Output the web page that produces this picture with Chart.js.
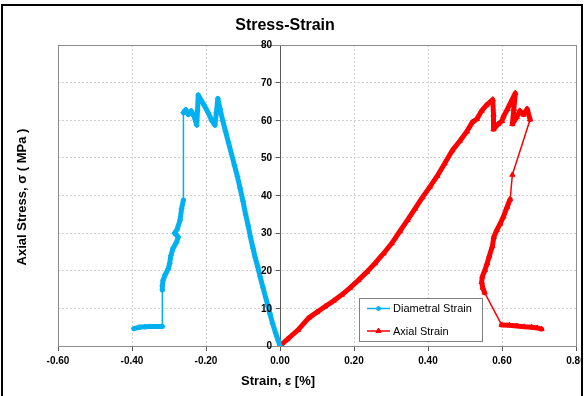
<!DOCTYPE html>
<html>
<head>
<meta charset="utf-8">
<script src="https://cdn.jsdelivr.net/npm/chart.js@4.4.1/dist/chart.umd.min.js"></script>
<style>
	body { margin: 0; background: #fff; }
	#frame { position: absolute; left: 1px; top: 4px; width: 578px; height: 390px; border: 2px solid #000; border-bottom: none; background: #fff; }
	canvas { display: block; }
</style>
</head>
<body>
<div id="frame"><canvas id="stressStrain" width="578" height="390"></canvas></div>
<script>
const strainTicks = [-0.6, -0.4, -0.2, 0, 0.2, 0.4, 0.6, 0.8];
const stressTicks = [0, 10, 20, 30, 40, 50, 60, 70, 80];

// diametral strain [%] against axial stress [MPa]
const diametralStrain = [
	0.000, -0.005, -0.012, -0.020, -0.027, -0.032, -0.039, -0.046, -0.054, -0.060,
	-0.067, -0.073, -0.080, -0.086, -0.093, -0.100, -0.108, -0.115, -0.123, -0.131,
	-0.139, -0.147, -0.155, -0.162, -0.168, -0.172, -0.176, -0.185, -0.194, -0.205,
	-0.214, -0.221, -0.223, -0.225, -0.232, -0.240, -0.248, -0.255, -0.261, -0.261,
	-0.266, -0.270, -0.278, -0.285, -0.275, -0.280, -0.289, -0.295, -0.298, -0.302,
	-0.310, -0.316, -0.318, -0.318, -0.318, -0.335, -0.350, -0.365, -0.380, -0.395
];
const diametralStress = [
	0.0, 1.5, 3.5, 6.0, 8.5, 10.4, 13.0, 15.5, 18.5, 21.0,
	23.5, 26.0, 29.0, 32.0, 35.0, 38.5, 42.0, 45.0, 48.0, 51.0,
	54.0, 57.0, 60.0, 63.0, 65.8, 62.0, 58.7, 60.0, 62.0, 64.0,
	65.5, 66.7, 62.5, 58.7, 61.0, 62.5, 61.5, 62.8, 62.0, 38.8,
	36.5, 33.5, 31.0, 30.0, 29.0, 27.5, 26.0, 24.0, 22.0, 20.5,
	19.0, 17.5, 16.0, 14.9, 5.2, 5.2, 5.2, 5.1, 5.0, 4.6
];

// axial strain [%] against axial stress [MPa]
const axialStrain = [
	0.000, 0.020, 0.049, 0.077, 0.100, 0.122, 0.145, 0.167, 0.190, 0.212,
	0.235, 0.257, 0.280, 0.302, 0.324, 0.345, 0.365, 0.385, 0.405, 0.425,
	0.445, 0.466, 0.486, 0.505, 0.520, 0.532, 0.545, 0.558, 0.575, 0.577,
	0.577, 0.590, 0.600, 0.604, 0.615, 0.625, 0.636, 0.632, 0.628, 0.640,
	0.648, 0.658, 0.668, 0.676, 0.628, 0.622, 0.614, 0.604, 0.595, 0.586,
	0.578, 0.574, 0.566, 0.560, 0.554, 0.547, 0.545, 0.548, 0.553, 0.599,
	0.620, 0.640, 0.660, 0.680, 0.695, 0.707
];
const axialStress = [
	0.0, 1.8, 4.3, 7.4, 9.0, 10.5, 12.0, 13.6, 15.5, 17.5,
	19.7, 22.0, 24.6, 27.3, 30.5, 33.5, 36.5, 39.5, 42.3, 45.2,
	48.5, 52.0, 54.5, 57.0, 59.5, 60.3, 62.5, 64.0, 65.5, 61.5,
	57.6, 59.0, 59.8, 61.0, 63.0, 65.0, 67.2, 63.0, 59.0, 60.8,
	62.5, 61.5, 63.0, 60.2, 45.5, 39.0, 37.0, 34.4, 32.5, 30.8,
	29.0, 26.5, 24.0, 22.0, 20.2, 18.5, 17.0, 15.5, 14.2, 5.6,
	5.5, 5.3, 5.1, 5.0, 4.8, 4.5
];

const FONT = "'Liberation Sans', Arial, sans-serif";
const BLUE = '#00B0F0';
const RED = '#FF0000';

function toPoints(xs, ys)
{
	return xs.map((x, i) => ({x: x, y: ys[i]}));
}

// densely logged stretches read as a thick band, sparse jumps as a thin line
function segmentWidth(ctx)
{
	let len = Math.hypot(ctx.p1.x - ctx.p0.x, ctx.p1.y - ctx.p0.y);
	return len > 20 ? 1.5 : 5;
}

const decorations = {
	id: 'decorations',
	beforeDatasetsDraw(chart)
	{
		let ctx = chart.ctx;
		let a = chart.chartArea;
		ctx.save();
		ctx.strokeStyle = '#8c8c8c';
		ctx.lineWidth = 1;
		ctx.strokeRect(Math.round(a.left) + 0.5, Math.round(a.top) + 0.5,
			Math.round(a.right - a.left), Math.round(a.bottom - a.top));
		ctx.restore();
	},
	afterDraw(chart)
	{
		let ctx = chart.ctx;
		let xs = chart.scales.x;
		let ys = chart.scales.y;
		ctx.save();
		ctx.fillStyle = '#000';
		ctx.textBaseline = 'middle';

		// stress labels sit just left of the zero-strain axis
		ctx.font = 'bold 10px ' + FONT;
		ctx.textAlign = 'right';
		let axisX = xs.getPixelForValue(0);
		stressTicks.forEach(function(v) {
			ctx.fillText(String(v), axisX - 8, ys.getPixelForValue(v) + 0.5);
		});

		ctx.textAlign = 'center';
		ctx.font = 'bold 16px ' + FONT;
		ctx.fillText('Stress-Strain', 282, 20);

		ctx.font = 'bold 13px ' + FONT;
		ctx.fillText('Strain, ε [%]', 275, 375);

		ctx.save();
		ctx.translate(19, 191);
		ctx.rotate(-Math.PI / 2);
		ctx.fillText('Axial Stress, σ ( MPa )', 0, 0);
		ctx.restore();

		// legend box
		let box = {x: 356, y: 292, w: 123, h: 43};
		ctx.fillStyle = '#fff';
		ctx.fillRect(box.x, box.y, box.w, box.h);
		ctx.strokeStyle = '#808080';
		ctx.lineWidth = 1;
		ctx.strokeRect(box.x + 0.5, box.y + 0.5, box.w, box.h);

		ctx.font = '11px ' + FONT;
		ctx.textAlign = 'left';
		chart.data.datasets.forEach(function(ds, i) {
			let y = box.y + 10.5 + i * 22.5;
			ctx.strokeStyle = ds.borderColor;
			ctx.fillStyle = ds.backgroundColor;
			ctx.lineWidth = 1.5;
			ctx.beginPath();
			ctx.moveTo(box.x + 8, y);
			ctx.lineTo(box.x + 31, y);
			ctx.stroke();
			ctx.lineWidth = 1;
			Chart.helpers.drawPoint(ctx, {pointStyle: ds.pointStyle, radius: ds.pointRadius, borderWidth: 1, rotation: 0}, box.x + 19.5, y);
			ctx.fillStyle = '#000';
			ctx.fillText(ds.label, box.x + 34, y + 0.5);
		});
		ctx.restore();
	}
};

const tickFont = {family: FONT, size: 10, weight: 'bold'};

new Chart(document.getElementById('stressStrain').getContext('2d'), {
	type: 'scatter',
	data: {
		datasets: [
			{
				label: 'Diametral Strain',
				data: toPoints(diametralStrain, diametralStress),
				showLine: true,
				borderColor: BLUE,
				backgroundColor: BLUE,
				borderWidth: 1.5,
				pointStyle: 'rectRot',
				pointRadius: 2.5,
				pointBorderWidth: 1,
				segment: {borderWidth: segmentWidth},
			},
			{
				label: 'Axial Strain',
				data: toPoints(axialStrain, axialStress),
				showLine: true,
				borderColor: RED,
				backgroundColor: RED,
				borderWidth: 1.5,
				pointStyle: 'triangle',
				pointRadius: 3,
				pointBorderWidth: 1,
				segment: {borderWidth: segmentWidth},
			}
		]
	},
	options: {
		responsive: false,
		animation: false,
		devicePixelRatio: 1,
		layout: {padding: {left: 55, right: 5, top: 39, bottom: 0}},
		elements: {
			line: {tension: 0, borderJoinStyle: 'round', borderCapStyle: 'round'}
		},
		plugins: {
			legend: {display: false},
			tooltip: {enabled: false},
			title: {display: false}
		},
		scales: {
			x: {
				type: 'linear',
				min: -0.6,
				max: 0.8,
				afterBuildTicks: s => { s.ticks = strainTicks.map(v => ({value: v})); },
				afterFit: s => { s.height = 50; s.paddingLeft = 0; s.paddingRight = 0; },
				ticks: {
					font: tickFont,
					color: '#000',
					padding: 4,
					maxRotation: 0,
					autoSkip: false,
					callback: v => v.toFixed(2)
				},
				grid: {color: '#d0d0d0', tickColor: '#595959', tickLength: 5},
				border: {color: '#595959', dash: [2, 2]}
			},
			y: {
				type: 'linear',
				min: 0,
				max: 80,
				position: {x: 0},
				afterBuildTicks: s => { s.ticks = stressTicks.map(v => ({value: v})); },
				ticks: {display: false},
				grid: {color: '#d0d0d0', tickColor: '#595959', tickLength: 4},
				border: {color: '#595959', dash: [2, 2]}
			}
		}
	},
	plugins: [decorations]
});
</script>
</body>
</html>
